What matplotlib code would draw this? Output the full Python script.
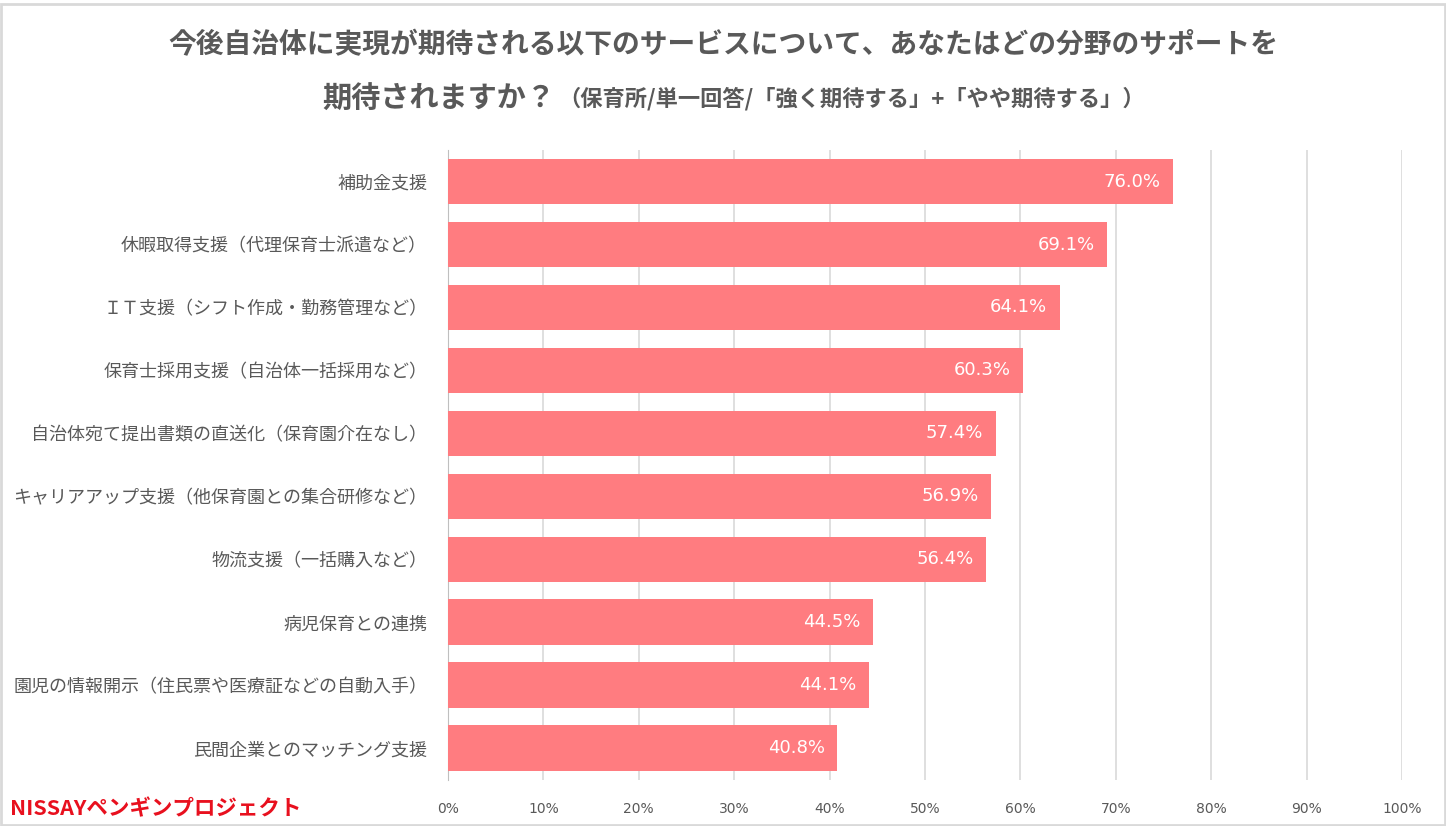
import matplotlib.pyplot as plt
from matplotlib.patches import Rectangle

plt.rcParams['font.family'] = ['Noto Sans CJK JP', 'DejaVu Sans']

# データ
categories = [
    '補助金支援',
    '休暇取得支援（代理保育士派遣など）',
    'ＩＴ支援（シフト作成・勤務管理など）',
    '保育士採用支援（自治体一括採用など）',
    '自治体宛て提出書類の直送化（保育園介在なし）',
    'キャリアアップ支援（他保育園との集合研修など）',
    '物流支援（一括購入など）',
    '病児保育との連携',
    '園児の情報開示（住民票や医療証などの自動入手）',
    '民間企業とのマッチング支援',
]
values = [76.0, 69.1, 64.1, 60.3, 57.4, 56.9, 56.4, 44.5, 44.1, 40.8]
xticks = [0, 10, 20, 30, 40, 50, 60, 70, 80, 90, 100]

bar_color = '#FF7C80'
gray = '#595959'

fig = plt.figure(figsize=(14.46, 8.26), dpi=100)
ax = fig.add_axes([0.3098, 0.0557, 0.6598, 0.7627])

y = list(range(len(categories)))
ax.barh(y, values, height=0.73, color=bar_color, zorder=3)
for yi, v in zip(y, values):
    ax.text(v - 1.3, yi, f'{v:.1f}%', ha='right', va='center',
            color='white', fontsize=13, family='DejaVu Sans', zorder=4)

ax.set_ylim(len(categories) - 0.5, -0.5)
ax.set_xlim(0, 100)
ax.set_yticks(y)
ax.set_yticklabels(categories, fontsize=13, color=gray)
ax.set_xticks(xticks)
ax.set_xticklabels([f'{t}%' for t in xticks], fontsize=10, color=gray, family='DejaVu Sans')
ax.tick_params(axis='both', length=0)
ax.tick_params(axis='x', pad=16)
ax.tick_params(axis='y', pad=15)
ax.grid(axis='x', color='#D9D9D9', linewidth=1.2, zorder=0)
for s in ['top', 'right', 'bottom']:
    ax.spines[s].set_visible(False)
ax.spines['left'].set_color('#BFBFBF')

# タイトル
fig.text(0.5, 0.945, '今後自治体に実現が期待される以下のサービスについて、あなたはどの分野のサポートを',
         ha='center', va='center', fontsize=20, fontweight='bold', color=gray)
fig.text(0.384, 0.880, '期待されますか？', ha='right', va='center',
         fontsize=21, fontweight='bold', color=gray)
fig.text(0.386, 0.880, '（保育所/単一回答/「強く期待する」+「やや期待する」）', ha='left', va='center',
         fontsize=16, fontweight='bold', color=gray)

# ロゴ
fig.text(0.007, 0.021, 'NISSAYペンギンプロジェクト', ha='left', va='center',
         fontsize=15.5, fontweight='bold', color='#E8101E')

# 枠線
fig.patches.append(Rectangle((0.001, 0.001), 0.998, 0.994, transform=fig.transFigure,
                             fill=False, edgecolor='#D9D9D9', linewidth=2))

fig.savefig('out.png', dpi=100)
